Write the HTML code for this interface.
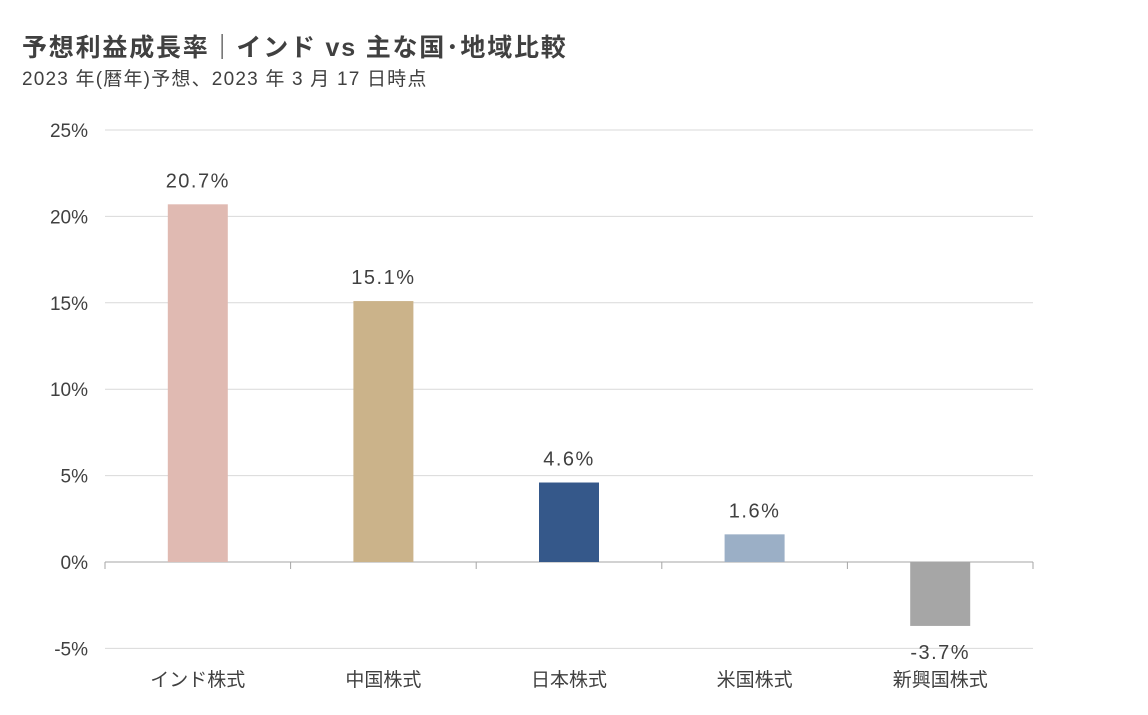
<!DOCTYPE html>
<html><head><meta charset="utf-8">
<style>
body{margin:0;background:#fff;width:1148px;height:710px;overflow:hidden;font-family:"Liberation Sans","Noto Sans CJK JP",sans-serif;}
</style></head>
<body>
<svg id="chart" width="1148" height="710" xmlns="http://www.w3.org/2000/svg">
<text x="22" y="56" font-size="25" font-weight="bold" letter-spacing="1.8" fill="#404040" font-family="Liberation Sans, Noto Sans CJK JP, sans-serif">予想利益成長率｜インド vs 主な国･地域比較</text>
<text x="22" y="85" font-size="19" letter-spacing="1.2" fill="#404040" font-family="Liberation Sans, Noto Sans CJK JP, sans-serif">2023 年(暦年)予想、2023 年 3 月 17 日時点</text>
<g id="grid"></g><g id="bars"></g><g id="labels"></g>
</svg>
<script>
const categories=["インド株式","中国株式","日本株式","米国株式","新興国株式"];
const values=[20.7,15.1,4.6,1.6,-3.7];
const valueLabels=["20.7%","15.1%","4.6%","1.6%","-3.7%"];
const colors=["#e0bab2","#cbb38a","#35588a","#9bafc6","#a6a6a6"];
const ticks=[-5,0,5,10,15,20,25];
const tickLabels=["-5%","0%","5%","10%","15%","20%","25%"];
const NS="http://www.w3.org/2000/svg";
const X0=105,X1=1033,Y25=130,Y0=562;
const y=v=>Y0-(v/25)*(Y0-Y25);
const bw=(X1-X0)/categories.length;
const xc=i=>X0+bw*(i+0.5);
function mk(t,a,p){const e=document.createElementNS(NS,t);for(const k in a)e.setAttribute(k,a[k]);p.appendChild(e);return e;}
const g=document.getElementById('grid'),b=document.getElementById('bars'),l=document.getElementById('labels');
ticks.forEach((t,i)=>{
 if(t!==0){const ln=mk('line',{x1:X0,x2:X1,y1:y(t),y2:y(t),stroke:'#d9d9d9','stroke-width':1},g);
 
 }
 const tx=mk('text',{x:88,y:y(t)+7,'text-anchor':'end','font-size':19,fill:'#404040'},g);
 tx.textContent=tickLabels[i];
 
 
});
const ax=mk('line',{x1:X0,x2:X1,y1:Y0,y2:Y0,stroke:'#a6a6a6','stroke-width':1},g);


for(let i=0;i<=categories.length;i++){const tk=mk('line',{x1:X0+bw*i,x2:X0+bw*i,y1:Y0,y2:Y0+7,stroke:'#a6a6a6'},g);
 
 }
categories.forEach((c,i)=>{
 const v=values[i],top=Math.min(y(v),Y0),h=Math.abs(y(v)-Y0);
 const r=mk('rect',{x:xc(i)-30,y:top,width:60,height:h,fill:colors[i]},b);
 
 
 const vl=mk('text',{x:xc(i),y:v>=0?y(v)-17:y(v)+33,'text-anchor':'middle','font-size':20,fill:'#404040','letter-spacing':'1.5'},l);
 vl.textContent=valueLabels[i];
 
 
 const cl=mk('text',{x:xc(i),y:686,'text-anchor':'middle','font-size':19,fill:'#404040'},l);
 cl.textContent=c;
 
 
});
</script>
</body></html>
